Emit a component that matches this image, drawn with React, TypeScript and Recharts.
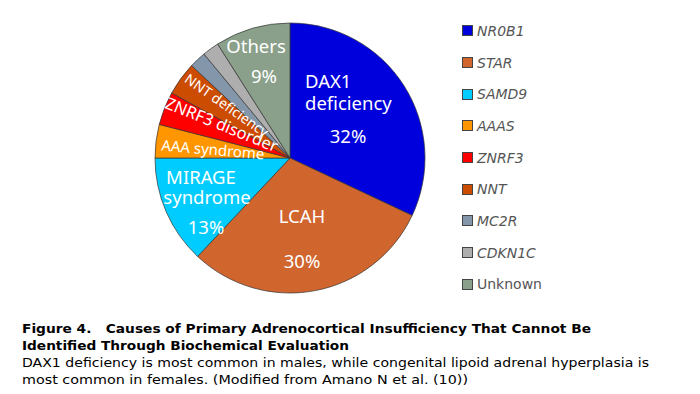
import React from 'react'
import { PieChart, Pie, Cell, Legend } from 'recharts'

// slices, clockwise from 12 o'clock
const genes = ['NR0B1', 'STAR', 'SAMD9', 'AAAS', 'ZNRF3', 'NNT', 'MC2R', 'CDKN1C', 'Unknown']
const causes = ['DAX1 deficiency', 'LCAH', 'MIRAGE syndrome', 'AAA syndrome', 'ZNRF3 disorder', 'NNT deficiency', 'MC2R', 'CDKN1C', 'Others']
const shares = [32, 30, 13, 4, 4, 4, 2, 2, 9]
const colors = ['#0000dc', '#d0652e', '#00ccff', '#ff9600', '#ff0000', '#cc4c02', '#8496aa', '#aeaeae', '#8aa08a']

const captionTitle = [
  'Figure 4.   Causes of Primary Adrenocortical Insufficiency That Cannot Be',
  'Identified Through Biochemical Evaluation',
]
const captionBody = [
  'DAX1 deficiency is most common in males, while congenital lipoid adrenal hyperplasia is',
  'most common in females. (Modified from Amano N et al. (10))',
]

const data = genes.map((g, i) => ({ gene: g, cause: causes[i], share: shares[i] }))

// label placement relative to pie center
type Line = { t: string; dx: number; dy: number; anchor?: 'start' | 'middle' }
const bigLabels: Record<number, Line[]> = {
  0: [
    { t: 'DAX1', dx: 15, dy: -70, anchor: 'start' },
    { t: 'deficiency', dx: 15, dy: -48, anchor: 'start' },
    { t: '%', dx: 58, dy: -15 },
  ],
  1: [
    { t: 'LCAH', dx: 12, dy: 65 },
    { t: '%', dx: 12, dy: 110 },
  ],
  2: [
    { t: 'MIRAGE', dx: -89, dy: 26 },
    { t: 'syndrome', dx: -83, dy: 46 },
    { t: '%', dx: -84, dy: 76 },
  ],
  8: [
    { t: 'Others', dx: -34, dy: -105 },
    { t: '%', dx: -26, dy: -75 },
  ],
}
const tiltedLabels: Record<number, { dx: number; dy: number; rot: number; size: number }> = {
  3: { dx: -77, dy: -9, rot: 5, size: 15 },
  4: { dx: -68, dy: -34, rot: 22, size: 16.5 },
  5: { dx: -63, dy: -53, rot: 35, size: 14 },
}

const labelFont = '"Noto Sans", sans-serif'

function renderLabel(props: any) {
  const { cx, cy, index, value } = props
  const big = bigLabels[index]
  if (big) {
    return (
      <text fill="#fff" fontSize={18.5} fontFamily={labelFont}>
        {big.map((l, k) => (
          <tspan key={k} x={cx + l.dx} y={cy + l.dy} textAnchor={l.anchor ?? 'middle'}>
            {l.t === '%' ? `${value}%` : l.t}
          </tspan>
        ))}
      </text>
    )
  }
  const tl = tiltedLabels[index]
  if (tl) {
    const x = cx + tl.dx
    const y = cy + tl.dy
    return (
      <text
        x={x}
        y={y}
        textAnchor="middle"
        dominantBaseline="central"
        transform={`rotate(${tl.rot} ${x} ${y})`}
        fill="#fff"
        fontSize={tl.size}
        fontFamily={labelFont}
      >
        {data[index].cause}
      </text>
    )
  }
  return null
}

function GeneLegend({ payload }: any) {
  const items = [...(payload ?? [])].sort(
    (a: any, b: any) => genes.indexOf(a.value) - genes.indexOf(b.value),
  )
  return (
    <div>
      {items.map((p: any) => (
        <div key={p.value} style={{ display: 'flex', alignItems: 'center', height: 31.7 }}>
          <span
            style={{
              width: 11,
              height: 11,
              boxSizing: 'border-box',
              background: p.color,
              border: '1px solid #444',
              marginRight: 4,
            }}
          />
          <span
            style={{
              fontFamily: '"DejaVu Sans", sans-serif',
              fontSize: 14,
              color: '#555',
              fontStyle: p.value === 'Unknown' ? 'normal' : 'italic',
            }}
          >
            {p.value}
          </span>
        </div>
      ))}
    </div>
  )
}

export default function App() {
  return (
    <div style={{ position: 'absolute', left: 0, top: 0, width: 700, height: 394, background: '#fff' }}>
      <PieChart width={700} height={394} margin={{ top: 0, right: 0, bottom: 0, left: 0 }}>
        <Pie
          data={data}
          dataKey="share"
          nameKey="gene"
          cx={290}
          cy={158}
          outerRadius={135}
          startAngle={90}
          endAngle={-270}
          stroke="#333"
          strokeWidth={0.7}
          label={renderLabel}
          labelLine={false}
          isAnimationActive={false}
        >
          {data.map((d, i) => (
            <Cell key={d.gene} fill={colors[i]} />
          ))}
        </Pie>
        <Legend
          layout="vertical"
          verticalAlign="top"
          align="right"
          content={<GeneLegend />}
          wrapperStyle={{ left: 462, top: 15, width: 200 }}
        />
      </PieChart>
      <svg width={700} height={394} style={{ position: 'absolute', left: 0, top: 0, pointerEvents: 'none' }}>
        <g fontFamily='"DejaVu Sans", sans-serif' fill="#000">
          <text x={22} y={333} fontSize={13} fontWeight="bold" textLength={569} lengthAdjust="spacingAndGlyphs" xmlSpace="preserve">
            {captionTitle[0]}
          </text>
          <text x={22} y={350} fontSize={13} fontWeight="bold" textLength={327} lengthAdjust="spacingAndGlyphs">
            {captionTitle[1]}
          </text>
          <text x={22} y={367} fontSize={12.5} textLength={627} lengthAdjust="spacingAndGlyphs">
            {captionBody[0]}
          </text>
          <text x={22} y={384} fontSize={12.5} textLength={446} lengthAdjust="spacingAndGlyphs">
            {captionBody[1]}
          </text>
        </g>
      </svg>
    </div>
  )
}
